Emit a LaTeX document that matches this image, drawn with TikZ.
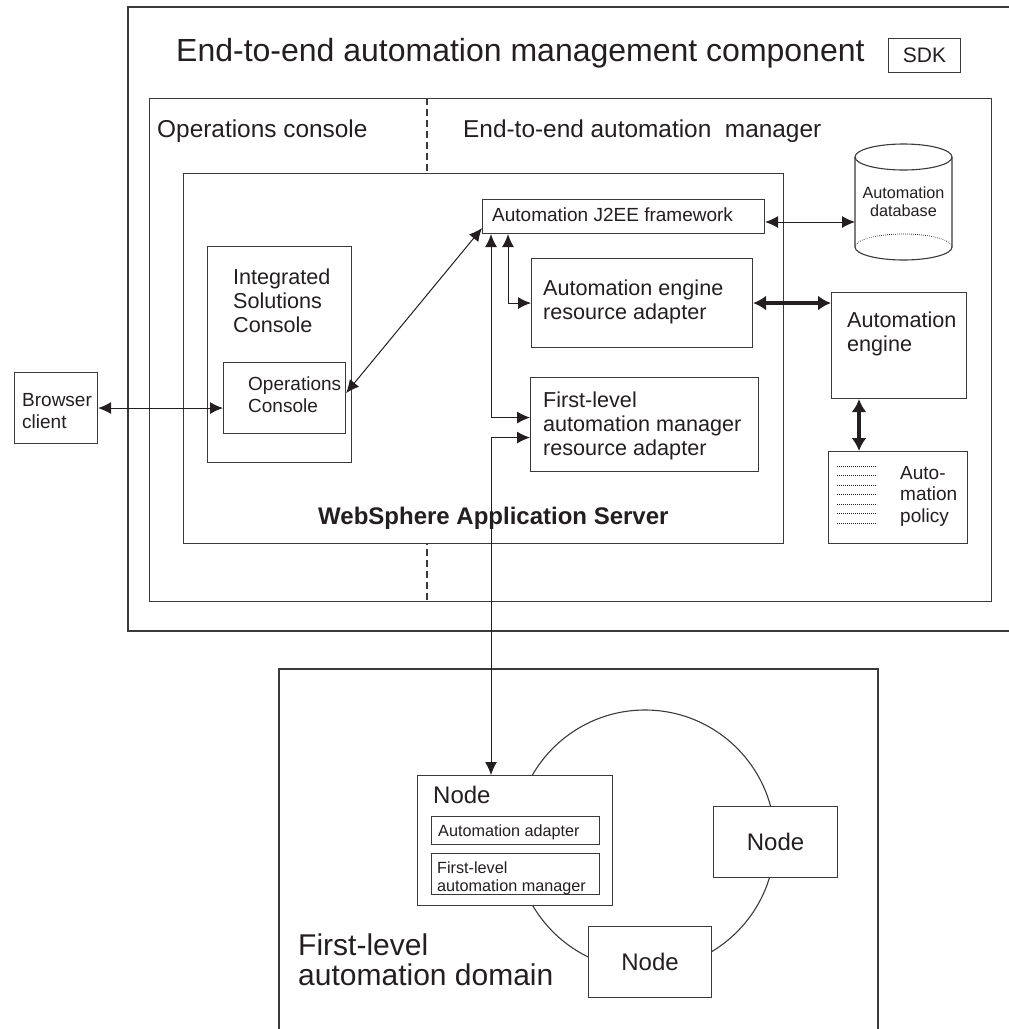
\documentclass[tikz,border=0pt]{standalone}
\usepackage{fontspec}
\setmainfont{Liberation Sans}
\usepackage{xcolor}
\usetikzlibrary{arrows.meta,calc,positioning}
\definecolor{rule}{HTML}{3A3A3A}
\definecolor{ink}{HTML}{231F20}

\begin{document}
\begin{tikzpicture}[x=1pt, y=-1pt,
        every node/.style={text=ink},
        panel/.style={draw=rule, line width=1.1pt, fill=white, inner sep=0pt, anchor=north west},
        rim/.style={draw=rule, line width=1.1pt},
        dotline/.style={draw=ink, line width=0.7pt, dash pattern=on 0.7pt off 1.3pt},
        lbl/.style={inner sep=0pt, anchor=base west, align=left},
        twoway/.style={{Latex[length=13pt,width=12pt]}-{Latex[length=13pt,width=12pt]}, draw=ink, line width=1pt},
        heavy/.style={{Latex[length=13pt,width=15pt]}-{Latex[length=13pt,width=15pt]}, draw=ink, line width=3.5pt},
        titlefont/.style={font=\fontsize{32}{38}\selectfont},
        headfont/.style={font=\fontsize{24.4}{29}\selectfont},
        boxfont/.style={font=\fontsize{21.6}{24}\selectfont},
        midfont/.style={font=\fontsize{19}{21.5}\selectfont},
        smallfont/.style={font=\fontsize{16.2}{17.5}\selectfont},
        nodefont/.style={font=\fontsize{24}{28}\selectfont},
        domfont/.style={font=\fontsize{30}{30}\selectfont},
        boldfont/.style={font=\bfseries\fontsize{24}{28}\selectfont}]
        \useasboundingbox (0,0) rectangle (1009,1029);

        % multi-line labels sit on the baseline of their last line
        \draw[rim] (1015,7) -- (128,7) -- (128,631) -- (1015,631);
        \draw[rim] (279,1035) -- (279,669) -- (878,669) -- (878,1035);

        \node[lbl, titlefont] (ttl) at (176,61) {End-to-end automation management component};
        \node[panel, minimum width=72pt, minimum height=34pt, font=\fontsize{21}{25}\selectfont] (sdk) at (888,38) {SDK};

        \node[panel, minimum width=842pt, minimum height=503pt] (mgr) at (149,98) {};
        \draw[rim, dash pattern=on 7pt off 4pt] (427,98) -- (427,601);
        \node[lbl, headfont] (opshead) at (157,137) {Operations console};
        \node[lbl, headfont] (mgrhead) at (463,137) {End-to-end automation\ \ manager};

        \node[panel, minimum width=600pt, minimum height=370pt] (was) at (183,173) {};
        \node[lbl, boldfont] (wastxt) at (318,524) {WebSphere Application Server};

        \node[panel, minimum width=144pt, minimum height=216pt] (isc) at (207,246) {};
        \node[lbl, boxfont] (isctxt) at (233,332) {Integrated\\Solutions\\Console};
        \node[panel, minimum width=122pt, minimum height=71pt] (opc) at (223,362) {};
        \node[lbl, midfont] (opctxt) at (248,412) {Operations\\Console};

        \node[panel, minimum width=83pt, minimum height=71pt] (brow) at (14,372) {};
        \node[lbl, midfont] (browtxt) at (22,428) {Browser\\client};

        \node[panel, minimum width=282pt, minimum height=34pt] (jee) at (482,199) {};
        \node[lbl, midfont] (jeetxt) at (492,221) {Automation J2EE framework};
        \node[panel, minimum width=221pt, minimum height=89pt] (aera) at (531,258) {};
        \node[lbl, boxfont] (aeratxt) at (543,319) {Automation engine\\resource adapter};
        \node[panel, minimum width=228pt, minimum height=94pt] (flra) at (530,377) {};
        \node[lbl, boxfont] (flratxt) at (543,455) {First-level\\automation manager\\resource adapter};

        \node[panel, minimum width=135pt, minimum height=106pt] (eng) at (831,292) {};
        \node[lbl, boxfont] (engtxt) at (847,351) {Automation\\engine};
        \node[panel, minimum width=139pt, minimum height=92pt] (pol) at (828,451) {};
        \node[lbl, midfont] (poltxt) at (900,522) {Auto-\\mation\\policy};
        \foreach \k in {0,...,6}
            \draw[dotline] ($(pol.north west)+(9,15+9.5*\k)$) -- ++(40,0);

        \draw[rim, fill=white] (855,157) -- (855,247) arc[start angle=180, end angle=0, x radius=48.5, y radius=13] -- (952,157);
        \draw[rim] (903.5,157) ellipse [x radius=48.5, y radius=13];
        \draw[dotline] (855,247) arc[start angle=180, end angle=360, x radius=48.5, y radius=13];
        \node[inner sep=0pt, anchor=base, align=center, smallfont] (dbtxt) at (903.5,216) {Automation\\database};
        \coordinate (dbport) at (855,222);

        \draw[rim] (645,840) circle [radius=130pt];
        \node[panel, minimum width=195pt, minimum height=130pt] (dnode) at (417,775) {};
        \node[lbl, nodefont] (dnodetxt) at (433,803) {Node};
        \node[panel, minimum width=168pt, minimum height=28pt] (adp) at (431,816) {};
        \node[lbl, smallfont] (adptxt) at (438,836) {Automation adapter};
        \node[panel, minimum width=168pt, minimum height=41pt] (flam) at (431,853) {};
        \node[lbl, smallfont] (flamtxt) at (437,891) {First-level\\automation manager};
        \node[panel, minimum width=124pt, minimum height=71pt, nodefont] (rnode) at (713,806) {Node};
        \node[panel, minimum width=123pt, minimum height=71pt, nodefont] (bnode) at (588,926) {Node};
        \node[lbl, domfont] (domtxt) at (298,985) {First-level\\automation domain};

        \draw[twoway] (brow.east) -- (brow.east -| opc.west);
        \draw[twoway] ($(opc.east)+(0,-5)$) -- ($(jee.south west)+(0,-6)$);
        \draw[twoway] ($(jee.south west)+(26,0)$) |- (aera.west);
        \draw[twoway] ($(jee.south west)+(9,0)$) |- ($(flra.west)+(0,-7)$);
        \draw[twoway] ($(dnode.north west)+(74,0)$) |- ($(flra.west)+(0,13)$);
        \draw[twoway] (jee.east |- dbport) -- (dbport);
        \draw[heavy] (aera.east) -- (aera.east -| eng.west);
        \draw[heavy] ($(eng.south west)+(28,0)$) -- ($(pol.north west)+(31,0)$);
\end{tikzpicture}
\end{document}
